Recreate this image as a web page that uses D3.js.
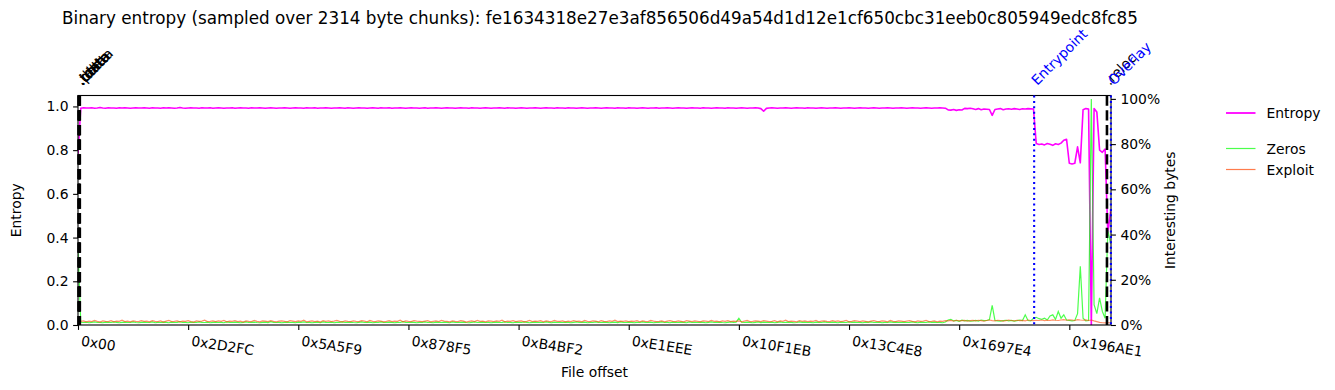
<!DOCTYPE html>
<html>
<head>
<meta charset="utf-8">
<script src="https://cdn.jsdelivr.net/npm/d3@7"></script>
<style>
  body { margin: 0; background: #fff; }
  svg text { font-family: "DejaVu Sans", sans-serif; fill: #000; }
</style>
</head>
<body>
<div id="chart"></div>
<script>
// Chart data
const TITLE = 'Binary entropy (sampled over 2314 byte chunks): fe1634318e27e3af856506d49a54d1d12e1cf650cbc31eeb0c805949edc8fc85';
const SAMPLE_STEP = 4627;      // bytes between plotted samples (2 chunks)
const FILE_END = 1735800;      // right edge of the offset axis

const xTickLabels = ['0x00', '0x2D2FC', '0x5A5F9', '0x878F5', '0xB4BF2', '0xE1EEE', '0x10F1EB', '0x13C4E8', '0x1697E4', '0x196AE1'];
const leftTicks = [0, 0.2, 0.4, 0.6, 0.8, 1.0];
const rightTicks = [0, 0.2, 0.4, 0.6, 0.8, 1.0];

const sectionNames = ['.text', '.rdata', '.data', '.pdata', '.idata', '.reloc'];
const sectionOffsets = [0x400, 0x600, 0x800, 0xA00, 0xC00, 0x1A6200];
const markerNames = ['Entrypoint', 'Overlay'];
const markerOffsets = [0x188400, 0x1A7C00];

const entropy = [
  .78,.992,.994,.993,.993,.994,.992,.993,.995,.993,.992,.994,.993,.993,.992,.994,.993,.994,.993,.992,.993,.994,.993,.993,.994,
  .993,.992,.994,.993,.993,.992,.994,.993,.994,.993,.992,.993,.995,.993,.992,.993,.994,.993,.993,.992,.994,.993,.993,.994,.992,
  .993,.994,.993,.992,.993,.993,.994,.992,.993,.994,.993,.993,.992,.994,.993,.993,.994,.993,.992,.993,.994,.993,.992,.993,.993,
  .994,.993,.992,.993,.994,.993,.993,.992,.994,.993,.993,.994,.992,.993,.993,.994,.993,.992,.993,.993,.994,.993,.992,.994,.993,
  .992,.993,.994,.993,.993,.992,.993,.994,.993,.992,.994,.993,.993,.994,.992,.993,.993,.994,.993,.992,.993,.994,.993,.993,.992,
  .993,.994,.992,.993,.993,.994,.993,.992,.993,.994,.993,.993,.992,.993,.994,.993,.993,.992,.994,.993,.993,.992,.993,.994,.993,
  .992,.993,.993,.994,.993,.992,.994,.993,.993,.992,.993,.994,.993,.992,.993,.993,.994,.993,.992,.993,.994,.993,.993,.992,.994,
  .993,.993,.992,.994,.993,.993,.992,.993,.994,.993,.992,.993,.993,.994,.993,.992,.993,.994,.993,.993,.992,.994,.993,.993,.992,
  .994,.993,.993,.992,.993,.994,.993,.992,.993,.993,.994,.992,.993,.993,.994,.993,.992,.993,.994,.993,.993,.992,.993,.994,.993,
  .993,.992,.994,.993,.993,.992,.993,.994,.993,.993,.992,.994,.993,.993,.992,.993,.994,.993,.992,.993,.993,.994,.993,.99,.978,
  .991,.993,.994,.993,.992,.993,.993,.994,.993,.992,.993,.994,.993,.993,.992,.994,.993,.993,.992,.993,.994,.993,.992,.993,.993,
  .994,.993,.992,.993,.993,.994,.993,.992,.993,.994,.993,.993,.992,.993,.994,.993,.992,.993,.993,.994,.993,.992,.993,.993,.994,
  .993,.992,.993,.994,.993,.993,.992,.993,.994,.993,.992,.993,.993,.994,.993,.992,.984,.983,.986,.982,.985,.984,.991,.99,.992,
  .989,.986,.99,.985,.988,.987,.986,.959,.986,.988,.99,.985,.988,.989,.987,.99,.988,.986,.989,.988,.99,.989,.988,.83,.826,
  .828,.824,.83,.827,.822,.829,.826,.832,.845,.85,.74,.737,.74,.815,.742,.985,.99,.988,0,.99,.975,.80,.79,.805,.42,
  .52
];

const zeros = [
  .34,.012,.011,.013,.01,.012,.014,.011,.012,.01,.013,.012,.011,.014,.012,.01,.012,.013,.011,.012,.014,.011,.01,.012,.013,
  .011,.012,.014,.01,.012,.011,.013,.012,.01,.013,.011,.012,.015,.011,.012,.01,.013,.012,.011,.014,.012,.011,.013,.01,.012,
  .013,.011,.012,.01,.014,.012,.011,.013,.012,.01,.012,.014,.011,.012,.013,.011,.01,.012,.013,.011,.015,.012,.011,.012,.01,
  .012,.013,.011,.012,.01,.013,.012,.014,.011,.012,.01,.012,.013,.011,.014,.012,.011,.013,.01,.012,.012,.014,.011,.012,.013,
  .011,.01,.012,.014,.011,.012,.013,.01,.012,.011,.014,.012,.011,.013,.012,.01,.012,.011,.015,.012,.011,.013,.012,.01,.012,
  .012,.014,.011,.012,.01,.013,.012,.011,.013,.012,.01,.014,.012,.011,.012,.013,.011,.01,.012,.014,.011,.012,.013,.011,.012,
  .01,.012,.013,.011,.012,.014,.011,.012,.01,.013,.012,.011,.014,.012,.01,.012,.013,.011,.012,.011,.014,.012,.01,.013,.011,
  .012,.011,.013,.012,.01,.012,.014,.011,.012,.013,.01,.012,.011,.014,.012,.011,.013,.012,.01,.012,.013,.011,.014,.012,.011,
  .013,.012,.01,.012,.011,.014,.012,.011,.013,.01,.012,.012,.014,.011,.012,.01,.013,.012,.011,.013,.012,.01,.014,.011,.012,
  .011,.013,.012,.01,.012,.014,.011,.012,.013,.011,.01,.012,.014,.012,.013,.03,.012,.011,.013,.012,.01,.012,.014,.011,.013,
  .012,.011,.013,.01,.012,.014,.011,.012,.013,.012,.01,.011,.014,.012,.013,.011,.012,.01,.013,.012,.011,.014,.012,.011,.013,
  .012,.01,.013,.012,.011,.014,.012,.013,.011,.012,.01,.013,.012,.014,.011,.012,.013,.01,.012,.011,.014,.012,.013,.011,.012,
  .013,.011,.012,.014,.012,.01,.013,.012,.011,.014,.012,.013,.011,.012,.01,.013,.022,.025,.018,.02,.016,.021,.018,.02,.017,
  .018,.02,.017,.022,.019,.02,.024,.087,.02,.018,.017,.019,.021,.018,.02,.017,.019,.022,.02,.045,.02,.018,.03,.034,.028,
  .025,.03,.022,.04,.045,.025,.06,.03,.045,.022,.02,.018,.02,.05,.26,.03,.018,.02,1,.09,.05,.12,.06,.03,.42,
  .36
];

const exploit = [
  .01,.016,.018,.014,.017,.015,.02,.016,.013,.018,.016,.015,.019,.014,.017,.016,.021,.015,.017,.014,.018,.016,.015,.019,.016,
  .017,.014,.019,.016,.015,.018,.013,.017,.02,.015,.016,.018,.014,.017,.016,.019,.015,.013,.018,.016,.017,.021,.015,.016,.018,
  .015,.018,.016,.02,.014,.017,.016,.019,.015,.017,.013,.018,.016,.015,.02,.016,.014,.018,.017,.015,.019,.016,.014,.017,.018,
  .016,.014,.019,.017,.015,.018,.016,.021,.014,.016,.018,.015,.017,.013,.019,.016,.018,.015,.017,.02,.016,.014,.018,.016,.015,
  .018,.016,.015,.019,.017,.014,.02,.016,.015,.018,.017,.014,.016,.019,.015,.017,.016,.021,.014,.018,.016,.015,.019,.017,.016,
  .015,.017,.019,.014,.016,.018,.015,.02,.017,.016,.014,.018,.016,.015,.019,.017,.013,.016,.018,.015,.02,.016,.017,.014,.018,
  .017,.015,.018,.016,.021,.014,.017,.016,.019,.015,.017,.018,.014,.016,.02,.015,.017,.016,.019,.014,.018,.016,.015,.02,.016,
  .016,.018,.014,.017,.015,.019,.016,.017,.014,.02,.016,.015,.018,.017,.014,.019,.016,.015,.018,.016,.021,.015,.017,.016,.018,
  .015,.017,.016,.019,.014,.018,.016,.015,.02,.017,.015,.016,.018,.014,.017,.019,.016,.015,.018,.016,.014,.019,.017,.015,.018,
  .016,.014,.018,.017,.015,.02,.016,.017,.014,.018,.016,.019,.015,.017,.016,.018,.014,.017,.02,.015,.016,.018,.017,.015,.019,
  .017,.015,.016,.019,.014,.018,.016,.021,.015,.017,.016,.014,.019,.016,.018,.015,.017,.016,.02,.014,.017,.018,.016,.015,.019,
  .016,.018,.015,.017,.02,.014,.016,.019,.017,.015,.018,.016,.014,.017,.019,.016,.015,.018,.017,.014,.02,.016,.015,.018,.017,
  .015,.017,.019,.016,.014,.018,.016,.017,.02,.015,.016,.018,.014,.017,.016,.019,.018,.02,.017,.021,.018,.019,.02,.017,.019,
  .02,.018,.021,.019,.017,.02,.022,.019,.018,.021,.02,.017,.019,.022,.02,.018,.021,.019,.02,.018,.022,.02,.019,.021,.02,
  .022,.019,.021,.02,.023,.021,.02,.022,.024,.021,.023,.022,.02,.024,.022,.021,.023,.02,.022,.018,.015,.012,.01,.009,.01,
  .01
];

// Layout
const WIDTH = 1335;
const HEIGHT = 390;
const PLOT = { left: 78, right: 1111, top: 95.5, bottom: 325 };
const FONT = 13.9;

const svg = d3.select('#chart')
    .append('svg')
    .attr('width', WIDTH)
    .attr('height', HEIGHT);

// Scales
const x = d3.scaleLinear().domain([0, FILE_END]).range([PLOT.left, PLOT.right]);
const yLeft = d3.scaleLinear().domain([0, 1.05]).range([PLOT.bottom, PLOT.top]);
const yRight = d3.scaleLinear().domain([0, 1.015]).range([PLOT.bottom, PLOT.top]);

// Title
svg.append('text')
    .attr('x', 62)
    .attr('y', 24)
    .attr('font-size', 16.8)
    .text(TITLE);

// Clip for the series
svg.append('clipPath').attr('id', 'plot-clip')
    .append('rect')
    .attr('x', PLOT.left)
    .attr('y', PLOT.top)
    .attr('width', PLOT.right - PLOT.left)
    .attr('height', PLOT.bottom - PLOT.top);

const plot = svg.append('g').attr('clip-path', 'url(#plot-clip)');

const sampleX = (d, i) => x(i * SAMPLE_STEP);

plot.append('path')
    .datum(entropy)
    .attr('fill', 'none')
    .attr('stroke', '#ff00ff')
    .attr('stroke-width', 1.6)
    .attr('stroke-linejoin', 'round')
    .attr('d', d3.line().x(sampleX).y(d => yLeft(d)));

plot.append('path')
    .datum(zeros)
    .attr('fill', 'none')
    .attr('stroke', '#00ff00')
    .attr('stroke-opacity', 0.7)
    .attr('stroke-width', 1.2)
    .attr('d', d3.line().x(sampleX).y(d => yRight(d)));

plot.append('path')
    .datum(exploit)
    .attr('fill', 'none')
    .attr('stroke', '#ff4500')
    .attr('stroke-opacity', 0.6)
    .attr('stroke-width', 1.2)
    .attr('d', d3.line().x(sampleX).y(d => yRight(d)));

// Frame
svg.append('rect')
    .attr('x', PLOT.left)
    .attr('y', PLOT.top)
    .attr('width', PLOT.right - PLOT.left)
    .attr('height', PLOT.bottom - PLOT.top)
    .attr('fill', 'none')
    .attr('stroke', '#000')
    .attr('stroke-width', 1.1);

// Section starts (black dashed) and markers (blue dotted)
const drawMarker = (offset, name, color, dash, width) => {
    const mx = x(offset);
    svg.append('line')
        .attr('x1', mx).attr('x2', mx)
        .attr('y1', PLOT.top).attr('y2', PLOT.bottom)
        .attr('stroke', color)
        .attr('stroke-width', width)
        .attr('stroke-dasharray', dash);
    svg.append('text')
        .attr('transform', `translate(${mx + 3},86) rotate(-45)`)
        .attr('font-size', FONT)
        .style('fill', color)
        .text(name);
};

sectionNames.forEach((name, i) => drawMarker(sectionOffsets[i], name, '#000', '10.3,4.4', 2.6));
markerNames.forEach((name, i) => drawMarker(markerOffsets[i], name, '#0000ff', '2,3.4', 2.1));

// Axes
const styleAxis = g => {
    g.select('.domain').remove();
    g.attr('font-size', FONT).attr('font-family', '"DejaVu Sans", sans-serif');
    g.selectAll('.tick line').attr('stroke', '#000').attr('stroke-width', 1.1);
};

svg.append('g')
    .attr('transform', `translate(${PLOT.left},0)`)
    .call(d3.axisLeft(yLeft).tickValues(leftTicks).tickFormat(d3.format('.1f')).tickSize(4.9).tickPadding(4.5))
    .call(styleAxis);

svg.append('g')
    .attr('transform', `translate(${PLOT.right},0)`)
    .call(d3.axisRight(yRight).tickValues(rightTicks).tickFormat(d3.format('.0%')).tickSize(4.9).tickPadding(4.5))
    .call(styleAxis);

const xAxis = svg.append('g')
    .attr('transform', `translate(0,${PLOT.bottom})`)
    .call(d3.axisBottom(x)
        .tickValues(xTickLabels.map(s => parseInt(s, 16)))
        .tickFormat((d, i) => xTickLabels[i])
        .tickSize(4.9))
    .call(styleAxis);

xAxis.selectAll('.tick text')
    .attr('x', null)
    .attr('y', null)
    .attr('dy', null)
    .attr('text-anchor', 'start')
    .attr('transform', 'translate(2,20.5) rotate(9)');

// Axis titles
svg.append('text')
    .attr('x', (PLOT.left + PLOT.right) / 2)
    .attr('y', 377)
    .attr('text-anchor', 'middle')
    .attr('font-size', FONT)
    .text('File offset');

svg.append('text')
    .attr('transform', `translate(20.5,${(PLOT.top + PLOT.bottom) / 2}) rotate(-90)`)
    .attr('text-anchor', 'middle')
    .attr('font-size', FONT)
    .text('Entropy');

svg.append('text')
    .attr('transform', `translate(1174.5,${(PLOT.top + PLOT.bottom) / 2}) rotate(-90)`)
    .attr('text-anchor', 'middle')
    .attr('font-size', FONT)
    .text('Interesting bytes');

// Legend
const legendItems = [
    { name: 'Entropy', color: '#ff00ff', opacity: 1, width: 1.8, y: 113 },
    { name: 'Zeros', color: '#00ff00', opacity: 0.7, width: 1.2, y: 148.5 },
    { name: 'Exploit', color: '#ff4500', opacity: 0.7, width: 1.2, y: 169.5 }
];

const legend = svg.append('g');
legendItems.forEach(item => {
    legend.append('line')
        .attr('x1', 1226).attr('x2', 1255.5)
        .attr('y1', item.y).attr('y2', item.y)
        .attr('stroke', item.color)
        .attr('stroke-opacity', item.opacity)
        .attr('stroke-width', item.width);
    legend.append('text')
        .attr('x', 1266.5)
        .attr('y', item.y)
        .attr('dy', '0.36em')
        .attr('font-size', FONT)
        .text(item.name);
});
</script>
</body>
</html>
